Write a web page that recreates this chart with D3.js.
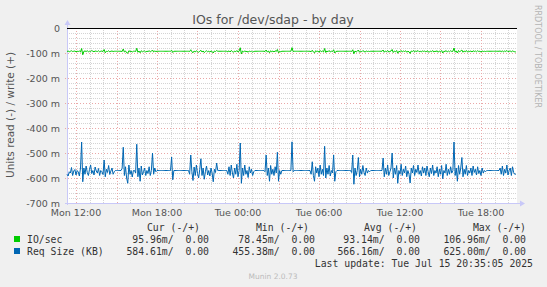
<!DOCTYPE html>
<html>
<head>
<meta charset="utf-8">
<script src="https://cdn.jsdelivr.net/npm/d3@7"></script>
<style>
  body { margin: 0; background: #f0f0f0; }
  svg text { font-family: "DejaVu Sans", sans-serif; }
  .mono { font-family: "DejaVu Sans Mono", monospace; white-space: pre; }
</style>
</head>
<body>
<div id="chart"></div>
<script>
// samples every 5 minutes, first one Mon Jul 14 11:20
const startTime = new Date(2025, 6, 14, 11, 20)
const stepMinutes = 5

// IO/sec read, in milli-units
const ioRead = [
  94, 92, 95, 93, 91, 94, 93, 92, 95, 93, 94, 92, 96, 82, 107, 93, 92, 94, 91, 95,
  93, 94, 90, 93, 95, 92, 93, 94, 91, 95, 93, 92, 94, 86, 99, 93, 94, 91, 95, 93,
  92, 94, 93, 93, 93, 93, 93, 93, 93, 94, 84, 96, 92, 99, 101, 91, 94, 93, 96, 93,
  93, 94, 81, 97, 92, 99, 91, 95, 93, 92, 96, 93, 94, 91, 95, 93, 88, 96, 92, 94,
  93, 93, 93, 93, 93, 93, 93, 93, 93, 93, 93, 93, 93, 89, 98, 93, 93, 93, 93, 93,
  93, 93, 93, 93, 93, 93, 93, 93, 93, 94, 87, 95, 99, 92, 96, 91, 94, 97, 93, 89,
  96, 92, 98, 94, 91, 95, 93, 96, 92, 94, 100, 92, 94, 90, 93, 93, 93, 93, 93, 93,
  93, 93, 93, 95, 91, 96, 90, 94, 97, 92, 95, 90, 96, 93, 79, 104, 92, 96, 91, 95,
  93, 97, 92, 94, 93, 96, 94, 93, 93, 93, 93, 93, 93, 93, 93, 93, 94, 88, 96, 92,
  99, 91, 95, 92, 96, 91, 94, 86, 99, 93, 95, 93, 93, 93, 93, 93, 93, 93, 93, 93,
  78.45, 94, 93, 93, 93, 93, 93, 93, 93, 93, 93, 93, 93, 93, 93, 93, 93, 95, 89, 96,
  100, 91, 94, 92, 97, 90, 95, 92, 96, 82, 98, 92, 95, 90, 96, 93, 94, 87, 100, 94,
  93, 93, 93, 93, 93, 93, 93, 93, 93, 93, 93, 93, 93, 94, 87, 103, 92, 96, 93, 88,
  97, 92, 95, 90, 94, 96, 92, 94, 93, 94, 93, 93, 93, 93, 93, 93, 93, 93, 93, 93,
  93, 88, 97, 92, 95, 90, 96, 94, 92, 86, 98, 92, 95, 90, 101, 93, 95, 90, 96, 92,
  94, 91, 97, 93, 95, 102, 92, 94, 90, 96, 92, 94, 90, 95, 93, 96, 91, 94, 92, 96,
  91, 94, 97, 92, 95, 90, 96, 93, 94, 91, 97, 92, 95, 90, 100, 93, 94, 90, 96, 92,
  95, 91, 94, 93, 80, 96, 92, 100, 90, 95, 92, 88, 97, 92, 95, 90, 96, 93, 94, 92,
  96, 91, 94, 92, 95, 91, 94, 93, 96, 92, 94, 93, 94, 93, 93, 93, 93, 93, 93, 93,
  93, 93, 93, 93, 93, 92, 95, 91, 96, 92, 94, 90, 95, 93, 92, 96, 91, 94, 95, 95.96
]

// Req Size (KB) read, in milli-units
const reqSize = [
  585, 592, 575, 580, 558, 590, 572, 566, 588, 570, 576, 592, 560, 456, 615, 560, 585, 552, 578, 590,
  565, 548, 582, 570, 588, 556, 572, 580, 562, 590, 570, 575, 586, 528, 595, 565, 578, 550, 586, 572,
  560, 585, 575, 570, 570, 570, 570, 570, 570, 562, 477, 590, 555, 600, 621, 548, 585, 570, 596, 570,
  570, 580, 465, 595, 560, 613, 552, 588, 575, 560, 590, 570, 582, 555, 590, 570, 500, 585, 560, 575,
  570, 570, 570, 570, 570, 570, 570, 570, 570, 570, 570, 570, 570, 516, 607, 570, 570, 570, 570, 570,
  570, 570, 570, 570, 570, 570, 570, 570, 570, 585, 508, 575, 610, 556, 590, 548, 582, 600, 565, 523,
  590, 560, 605, 575, 552, 588, 570, 592, 560, 580, 615, 565, 578, 540, 570, 570, 570, 570, 570, 570,
  570, 570, 570, 585, 555, 590, 548, 580, 600, 560, 585, 545, 595, 570, 460, 621, 560, 590, 548, 585,
  570, 598, 555, 580, 565, 590, 575, 570, 570, 570, 570, 570, 570, 570, 570, 570, 575, 508, 590, 560,
  613, 550, 585, 565, 590, 555, 580, 497, 613, 570, 585, 570, 570, 570, 570, 570, 570, 570, 570, 570,
  455.38, 575, 570, 570, 570, 570, 570, 570, 570, 570, 570, 570, 570, 570, 570, 570, 570, 585, 535, 590,
  613, 555, 580, 560, 595, 548, 585, 565, 590, 473, 600, 560, 585, 550, 592, 570, 580, 508, 613, 575,
  570, 570, 570, 570, 570, 570, 570, 570, 570, 570, 570, 570, 570, 578, 508, 625, 560, 590, 570, 518,
  595, 565, 585, 550, 578, 590, 560, 580, 570, 575, 570, 570, 570, 570, 570, 570, 570, 570, 570, 570,
  570, 520, 595, 560, 585, 548, 590, 575, 560, 500, 600, 560, 585, 550, 621, 570, 585, 545, 590, 565,
  580, 552, 595, 570, 585, 620, 560, 580, 550, 590, 565, 578, 548, 585, 570, 592, 555, 580, 560, 590,
  552, 575, 595, 560, 582, 548, 590, 570, 580, 555, 595, 565, 585, 550, 603, 570, 580, 545, 590, 565,
  585, 555, 580, 570, 456, 590, 560, 613, 550, 585, 560, 518, 595, 565, 585, 550, 590, 570, 580, 560,
  590, 552, 578, 565, 588, 555, 582, 570, 590, 560, 580, 570, 575, 570, 570, 570, 570, 570, 570, 570,
  570, 570, 570, 570, 570, 560, 585, 552, 590, 565, 580, 548, 588, 570, 560, 590, 555, 578, 585, 584.61
]

const yTicks = [0, -100, -200, -300, -400, -500, -600, -700]

const legendHeaders = ['Cur (-/+)', 'Min (-/+)', 'Avg (-/+)', 'Max (-/+)']
const legendRows = [
  {name: 'IO/sec', color: '#00cc00', values: ['95.96m/  0.00', '78.45m/  0.00', '93.14m/  0.00', '106.96m/  0.00']},
  {name: 'Req Size (KB)', color: '#0066b3', values: ['584.61m/  0.00', '455.38m/  0.00', '566.16m/  0.00', '625.00m/  0.00']},
]

const canvasWidth = 547
const canvasHeight = 287
const plot = {left: 67, right: 517, top: 28, bottom: 203}

const timeAt = i => d3.timeMinute.offset(startTime, i * stepMinutes)
const endTime = d3.timeMinute.offset(startTime, 2000)

const xScale = d3.scaleTime().domain([startTime, endTime]).range([plot.left, plot.right])
const yScale = d3.scaleLinear().domain([-700, 0]).range([plot.bottom, plot.top])

const svg = d3
  .select('#chart')
  .append('svg')
  .attr('width', canvasWidth)
  .attr('height', canvasHeight)

svg.append('rect')
  .attr('width', canvasWidth)
  .attr('height', canvasHeight)
  .attr('fill', '#f0f0f0')

svg.append('rect')
  .attr('x', plot.left)
  .attr('y', plot.top)
  .attr('width', plot.right - plot.left)
  .attr('height', plot.bottom - plot.top)
  .attr('fill', '#ffffff')

// minor grid
const minorX = d3.timeHour.range(d3.timeHour.ceil(startTime), endTime)
const minorY = d3.range(-700, 1, 20)
const grid = svg.append('g')

grid.selectAll('line.vmin')
  .data(minorX.filter(d => d.getHours() % 3 !== 0))
  .join('line')
  .attr('x1', d => Math.round(xScale(d)) + 0.5)
  .attr('x2', d => Math.round(xScale(d)) + 0.5)
  .attr('y1', plot.top)
  .attr('y2', plot.bottom)
  .attr('stroke', '#d4d4d4')
  .attr('stroke-dasharray', '1,1')

grid.selectAll('line.hmin')
  .data(minorY.filter(d => d % 100 !== 0))
  .join('line')
  .attr('x1', plot.left)
  .attr('x2', plot.right)
  .attr('y1', d => Math.round(yScale(d)) + 0.5)
  .attr('y2', d => Math.round(yScale(d)) + 0.5)
  .attr('stroke', '#d4d4d4')
  .attr('stroke-dasharray', '1,1')

// major grid
grid.selectAll('line.vmaj')
  .data(minorX.filter(d => d.getHours() % 3 === 0))
  .join('line')
  .attr('x1', d => Math.round(xScale(d)) + 0.5)
  .attr('x2', d => Math.round(xScale(d)) + 0.5)
  .attr('y1', plot.top)
  .attr('y2', plot.bottom + 2)
  .attr('stroke', '#eaa8a8')
  .attr('stroke-dasharray', '1,2')

grid.selectAll('line.hmaj')
  .data(yTicks.filter(d => d !== 0 && d !== -700))
  .join('line')
  .attr('x1', plot.left - 2)
  .attr('x2', plot.right)
  .attr('y1', d => Math.round(yScale(d)) + 0.5)
  .attr('y2', d => Math.round(yScale(d)) + 0.5)
  .attr('stroke', '#eaa8a8')
  .attr('stroke-dasharray', '1,2')

// axes
const axisColor = '#c8c8f8'
svg.append('line')
  .attr('x1', plot.left + 0.5).attr('x2', plot.left + 0.5)
  .attr('y1', plot.top - 4).attr('y2', plot.bottom + 2)
  .attr('stroke', axisColor)
svg.append('line')
  .attr('x1', plot.left - 2).attr('x2', plot.right + 3)
  .attr('y1', plot.bottom + 0.5).attr('y2', plot.bottom + 0.5)
  .attr('stroke', axisColor)
svg.append('path')
  .attr('d', `M${plot.left - 2.5},${plot.top - 3} L${plot.left + 3.5},${plot.top - 3} L${plot.left + 0.5},${plot.top - 8} Z`)
  .attr('fill', axisColor)
svg.append('path')
  .attr('d', `M${plot.right + 3},${plot.bottom - 2.5} L${plot.right + 3},${plot.bottom + 3.5} L${plot.right + 8},${plot.bottom + 0.5} Z`)
  .attr('fill', axisColor)

// tick labels
svg.append('g')
  .selectAll('text')
  .data(yTicks)
  .join('text')
  .attr('x', plot.left - 7)
  .attr('y', d => yScale(d) + 3.5)
  .attr('text-anchor', 'end')
  .attr('font-size', '9.5px')
  .attr('fill', '#555')
  .text(d => (d === 0 ? '0' : `${d} m`))

const timeFmt = d3.timeFormat('%a %H:%M')
svg.append('g')
  .selectAll('text')
  .data(d3.timeHour.every(6).range(d3.timeHour.ceil(startTime), endTime))
  .join('text')
  .attr('x', d => xScale(d))
  .attr('y', plot.bottom + 13)
  .attr('text-anchor', 'middle')
  .attr('font-size', '9.5px')
  .attr('fill', '#555')
  .text(d => timeFmt(d))

// series
const line = values =>
  d3.line()
    .x((d, i) => xScale(timeAt(i)))
    .y(d => yScale(-d))(values)

svg.append('path')
  .attr('d', line(reqSize))
  .attr('fill', 'none')
  .attr('stroke', '#0066b3')
  .attr('stroke-width', 1)

svg.append('path')
  .attr('d', line(ioRead))
  .attr('fill', 'none')
  .attr('stroke', '#00cc00')
  .attr('stroke-width', 1)

// write side is 0, drawn on the zero line
svg.append('line')
  .attr('x1', plot.left).attr('x2', plot.right)
  .attr('y1', yScale(0) + 0.5).attr('y2', yScale(0) + 0.5)
  .attr('stroke', '#000')

// titles
svg.append('text')
  .attr('x', 273)
  .attr('y', 24)
  .attr('text-anchor', 'middle')
  .attr('font-size', '12.5px')
  .attr('fill', '#555')
  .text('IOs for /dev/sdap - by day')

svg.append('text')
  .attr('transform', 'translate(14, 115) rotate(-90)')
  .attr('text-anchor', 'middle')
  .attr('font-size', '10.5px')
  .attr('fill', '#555')
  .text('Units read (-) / write (+)')

svg.append('text')
  .attr('transform', 'translate(535, 5) rotate(90)')
  .attr('font-size', '8px')
  .attr('fill', '#b4b4b4')
  .text('RRDTOOL / TOBI OETIKER')

// legend
const colEnds = [209, 315, 420, 526]
const headEnds = [200, 309, 417, 526]

svg.append('g')
  .selectAll('text')
  .data(legendHeaders)
  .join('text')
  .attr('class', 'mono')
  .attr('x', (d, i) => headEnds[i])
  .attr('y', 231)
  .attr('text-anchor', 'end')
  .attr('font-size', '9.8px')
  .attr('fill', '#333')
  .text(d => d)

legendRows.forEach((row, r) => {
  const y = 243 + r * 12
  svg.append('rect')
    .attr('x', 14).attr('y', y - 7)
    .attr('width', 6).attr('height', 6)
    .attr('fill', row.color)
  svg.append('text')
    .attr('class', 'mono')
    .attr('x', 27).attr('y', y)
    .attr('font-size', '9.8px')
    .attr('fill', '#333')
    .text(row.name)
  svg.append('g')
    .selectAll('text')
    .data(row.values)
    .join('text')
    .attr('class', 'mono')
    .attr('x', (d, i) => colEnds[i])
    .attr('y', y)
    .attr('text-anchor', 'end')
    .attr('font-size', '9.8px')
    .attr('fill', '#333')
    .text(d => d)
})

svg.append('text')
  .attr('class', 'mono')
  .attr('x', 533).attr('y', 267)
  .attr('text-anchor', 'end')
  .attr('font-size', '9.8px')
  .attr('fill', '#333')
  .text('Last update: Tue Jul 15 20:35:05 2025')

svg.append('text')
  .attr('x', 273).attr('y', 279)
  .attr('text-anchor', 'middle')
  .attr('font-size', '7.5px')
  .attr('fill', '#bbb')
  .text('Munin 2.0.73')
</script>
</body>
</html>
